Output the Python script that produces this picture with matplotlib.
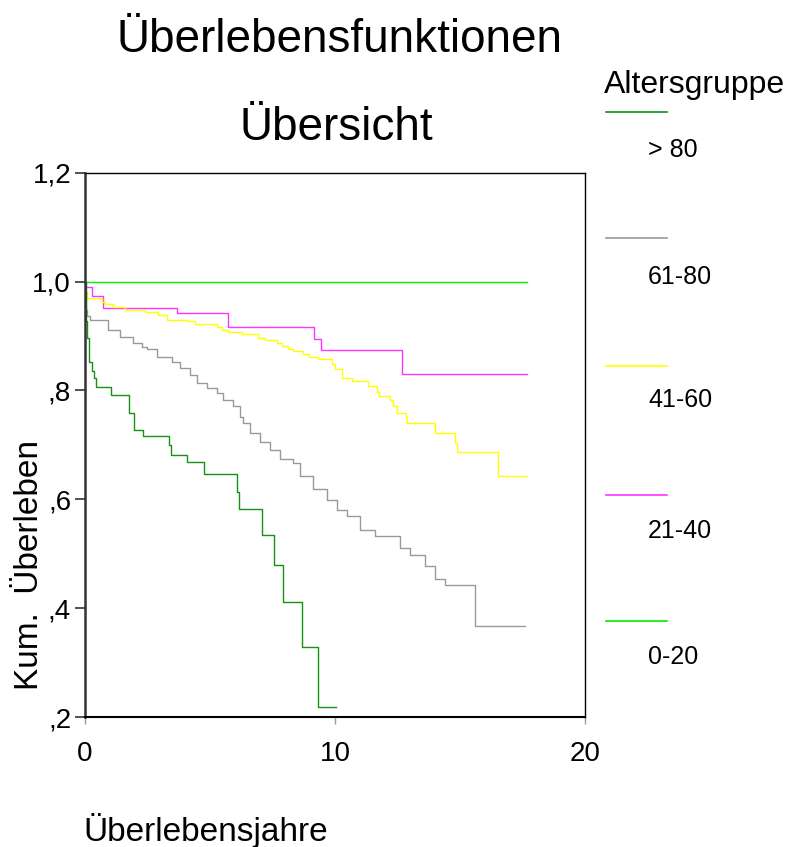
import matplotlib
matplotlib.use("Agg")
import matplotlib.pyplot as plt
from matplotlib.lines import Line2D

plt.rcParams['font.family'] = ['Liberation Sans', 'DejaVu Sans']

# Kaplan-Meier step data per age group: (time in years, cumulative survival)
t_0_20 = [0.0, 17.67]
s_0_20 = [1.0, 1.0]

t_21_40 = [0.0, 0.28, 0.73, 3.67, 5.72, 9.16, 9.45, 12.7, 17.67]
s_21_40 = [0.990, 0.974, 0.951, 0.943, 0.917, 0.895, 0.875, 0.831, 0.831]

t_41_60 = [0.0, 0.09, 0.67, 0.8, 1.13, 1.6, 2.4, 2.93, 3.27, 4.07, 4.4, 5.27,
           5.47, 5.73, 6.27, 6.93, 7.2, 7.67, 7.87, 8.13, 8.33, 8.71, 8.97,
           9.33, 9.89, 10.0, 10.27, 10.67, 11.33, 11.67, 11.77, 12.2, 12.33,
           12.47, 12.84, 12.89, 14.0, 14.8, 14.87, 16.53, 17.67]
s_41_60 = [0.981, 0.970, 0.963, 0.959, 0.954, 0.948, 0.944, 0.939, 0.930,
           0.927, 0.922, 0.917, 0.911, 0.908, 0.904, 0.896, 0.892, 0.887,
           0.882, 0.876, 0.872, 0.866, 0.861, 0.858, 0.849, 0.839, 0.823,
           0.818, 0.809, 0.798, 0.789, 0.783, 0.771, 0.759, 0.749, 0.741,
           0.721, 0.703, 0.686, 0.643, 0.643]

t_61_80 = [0.0, 0.03, 0.07, 0.2, 0.93, 1.4, 1.93, 2.27, 2.47, 2.87, 3.47, 3.8,
           4.2, 4.47, 4.87, 5.27, 5.53, 5.93, 6.2, 6.33, 6.6, 7.0, 7.4, 7.8,
           8.33, 8.6, 9.13, 9.67, 10.07, 10.47, 11.0, 11.6, 12.6, 13.0, 13.6,
           14.0, 14.4, 15.6, 17.6]
s_61_80 = [0.982, 0.948, 0.936, 0.930, 0.911, 0.899, 0.887, 0.880, 0.876,
           0.862, 0.853, 0.841, 0.829, 0.814, 0.804, 0.795, 0.783, 0.771,
           0.752, 0.740, 0.722, 0.706, 0.691, 0.674, 0.667, 0.642, 0.618,
           0.599, 0.581, 0.569, 0.544, 0.532, 0.511, 0.498, 0.477, 0.453,
           0.443, 0.368, 0.368]

t_80 = [0.0, 0.02, 0.07, 0.17, 0.27, 0.36, 0.44, 1.03, 1.77, 1.96, 2.33, 3.37,
        3.44, 4.09, 4.76, 6.07, 6.15, 7.09, 7.56, 7.93, 8.69, 9.33, 10.03]
s_80 = [1.0, 0.927, 0.896, 0.853, 0.835, 0.823, 0.806, 0.792, 0.758, 0.728,
        0.717, 0.699, 0.682, 0.669, 0.647, 0.613, 0.582, 0.535, 0.480, 0.411,
        0.329, 0.218, 0.218]

groups = ['> 80', '61-80', '41-60', '21-40', '0-20']
colors = {'> 80': '#149214', '61-80': '#999999', '41-60': '#ffff00',
          '21-40': '#ff33ff', '0-20': '#00ee00'}
series = {'> 80': (t_80, s_80), '61-80': (t_61_80, s_61_80),
          '41-60': (t_41_60, s_41_60), '21-40': (t_21_40, s_21_40),
          '0-20': (t_0_20, s_0_20)}

x_ticks = [0, 10, 20]
y_ticks = [0.2, 0.4, 0.6, 0.8, 1.0, 1.2]
y_tick_labels = [',2', ',4', ',6', ',8', '1,0', '1,2']

W, H = 792, 847
fig = plt.figure(figsize=(W / 100, H / 100), dpi=100)
ax = fig.add_axes([85 / W, 1 - 717 / H, 500 / W, (717 - 172.7) / H])

for g in ['0-20', '21-40', '41-60', '61-80', '> 80']:
    t, s = series[g]
    ax.step(t, s, where='post', color=colors[g], lw=1.0)

ax.set_xlim(0, 20)
ax.set_ylim(0.2, 1.2)
ax.set_xticks(x_ticks)
ax.set_xticklabels([str(v) for v in x_ticks])
ax.set_yticks(y_ticks)
ax.set_yticklabels(y_tick_labels)
ax.tick_params(axis='y', direction='out', length=7, width=1.2, pad=3,
               labelsize=20, color='#333333')
ax.tick_params(axis='x', direction='out', length=5, width=1.0, pad=12,
               labelsize=20, color='#999999')
for side, sp in ax.spines.items():
    sp.set_color('#000000')
    sp.set_linewidth(1.0)
ax.spines['left'].set_color('#333333')
ax.spines['left'].set_linewidth(1.8)
ax.spines['bottom'].set_linewidth(1.5)

# Titles
fig.text(340 / W, 1 - 40 / H, 'Überlebensfunktionen', ha='center', va='center',
         fontsize=33)
fig.text(336 / W, 1 - 128 / H, 'Übersicht', ha='center', va='center',
         fontsize=33)

# Axis labels
fig.text(83 / W, 1 - 830 / H, 'Überlebensjahre', ha='left', va='center',
         fontsize=24)
fig.text(30 / W, 1 - 565 / H, 'Kum.  Überleben', ha='center', va='center',
         rotation=90, fontsize=24)

# Legend drawn by hand
fig.text(694 / W, 1 - 85 / H, 'Altersgruppe', ha='center', va='center',
         fontsize=23)
line_y = [112, 238, 366, 495, 621]
label_y = [150, 277, 400, 531, 657]
for g, ly, ty in zip(groups, line_y, label_y):
    fig.add_artist(Line2D([606 / W, 667 / W], [1 - ly / H, 1 - ly / H],
                          transform=fig.transFigure, color=colors[g], lw=1.2))
    fig.text(648 / W, 1 - ty / H, g, ha='left', va='center', fontsize=18)

fig.savefig('out.png', dpi=100)
